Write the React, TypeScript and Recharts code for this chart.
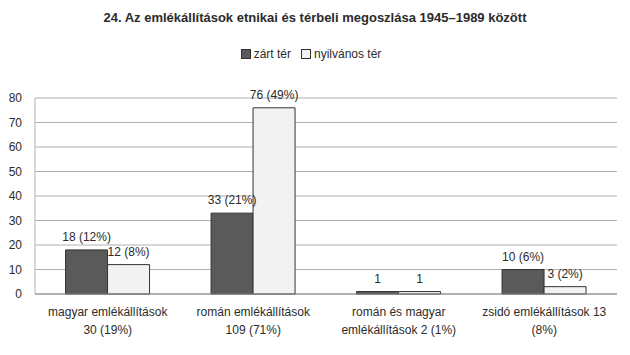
import { Bar, BarChart, CartesianGrid, LabelList, Legend, XAxis, YAxis } from "recharts";

const categories = [
  "magyar emlékállítások\n30 (19%)",
  "román emlékállítások\n109 (71%)",
  "román és magyar\nemlékállítások 2 (1%)",
  "zsidó emlékállítások 13\n(8%)",
];
const zartValues = [18, 33, 1, 10];
const nyilvanosValues = [12, 76, 1, 3];
const zartLabels = ["18 (12%)", "33 (21%)", "1", "10 (6%)"];
const nyilvanosLabels = ["12 (8%)", "76 (49%)", "1", "3 (2%)"];
const yTicks = [0, 10, 20, 30, 40, 50, 60, 70, 80];

const data = categories.map((name, i) => ({
  name,
  zart: zartValues[i],
  nyilvanos: nyilvanosValues[i],
  zartLabel: zartLabels[i],
  nyilvanosLabel: nyilvanosLabels[i],
}));

const FONT = "'Liberation Sans', Arial, sans-serif";
const TEXT = "#2b2b2b";

function CategoryTick({ x, y, payload }: any) {
  const lines = String(payload.value).split("\n");
  return (
    <text x={x} y={y} textAnchor="middle" fill={TEXT} fontSize={12} fontFamily={FONT}>
      {lines.map((line, i) => (
        <tspan key={i} x={x} dy={i === 0 ? 14 : 18}>
          {line}
        </tspan>
      ))}
    </text>
  );
}

// bar value label, kept on one line above the bar
function TopLabel({ x, y, width, value }: any) {
  return (
    <text x={Number(x) + Number(width) / 2} y={Number(y) - 9} textAnchor="middle" fill={TEXT} fontSize={12} fontFamily={FONT}>
      {value}
    </text>
  );
}

function LegendBox() {
  return (
    <div style={{ display: "flex", justifyContent: "center", gap: 10, fontSize: 12, color: TEXT, fontFamily: FONT }}>
      <span style={{ display: "flex", alignItems: "center", gap: 3 }}>
        <span style={{ width: 8, height: 8, background: "#5a5a5a", border: "1px solid #333" }} />
        zárt tér
      </span>
      <span style={{ display: "flex", alignItems: "center", gap: 3 }}>
        <span style={{ width: 8, height: 8, background: "#f2f2f2", border: "1px solid #333" }} />
        nyilvános tér
      </span>
    </div>
  );
}

export default function App() {
  return (
    <div style={{ position: "absolute", left: 0, top: 0, width: 630, height: 355, background: "#fff", fontFamily: FONT }}>
      <div style={{ position: "absolute", top: 10, width: 630, textAlign: "center", fontSize: 13, fontWeight: "bold", color: TEXT }}>
        24. Az emlékállítások etnikai és térbeli megoszlása 1945–1989 között
      </div>
      <BarChart
        width={630}
        height={355}
        data={data}
        margin={{ top: 84, right: 13, bottom: 10, left: 5 }}
        barCategoryGap="21%"
        barGap={0}
      >
        <CartesianGrid vertical={false} stroke="#b0b0b0" />
        <XAxis
          dataKey="name"
          interval={0}
          height={51}
          tickLine={false}
          axisLine={{ stroke: "#8a8a8a" }}
          tick={<CategoryTick />}
        />
        <YAxis
          width={30}
          domain={[0, 80]}
          ticks={yTicks}
          tickLine={false}
          tickMargin={7}
          axisLine={{ stroke: "#b0b0b0" }}
          tick={{ fill: TEXT, fontSize: 12, fontFamily: FONT }}
        />
        <Legend verticalAlign="top" wrapperStyle={{ top: 47 }} content={<LegendBox />} />
        <Bar dataKey="zart" name="zárt tér" fill="#5a5a5a" stroke="#333" strokeWidth={1} isAnimationActive={false}>
          <LabelList dataKey="zartLabel" content={<TopLabel />} />
        </Bar>
        <Bar dataKey="nyilvanos" name="nyilvános tér" fill="#f2f2f2" stroke="#333" strokeWidth={1} isAnimationActive={false}>
          <LabelList dataKey="nyilvanosLabel" content={<TopLabel />} />
        </Bar>
      </BarChart>
    </div>
  );
}
